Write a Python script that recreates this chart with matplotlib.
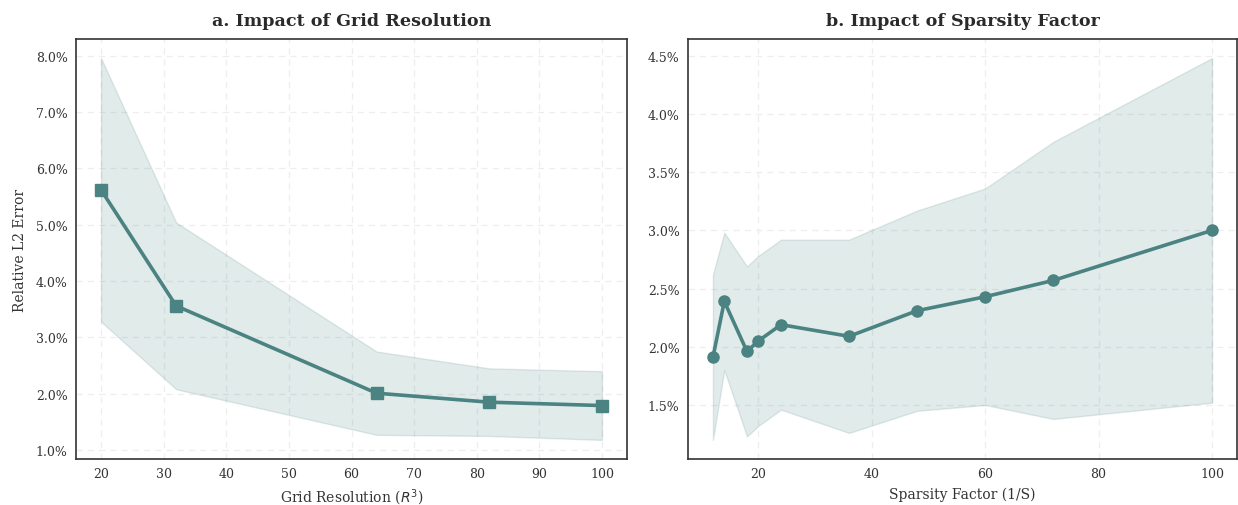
import matplotlib
matplotlib.use("Agg")
import matplotlib.pyplot as plt
import numpy as np
from matplotlib.ticker import PercentFormatter

# Panel a: grid resolution
grid_res = [20, 32, 64, 82, 100]
grid_err_mean = [5.62, 3.56, 2.01, 1.85, 1.79]
grid_err_std = [2.34, 1.48, 0.74, 0.60, 0.61]

# Panel b: sparsity factor
sparsity = [12, 14, 18, 20, 24, 36, 48, 60, 72, 100]
sparse_err_mean = [1.91, 2.39, 1.96, 2.05, 2.19, 2.09, 2.31, 2.43, 2.57, 3.00]
sparse_err_std = [0.71, 0.59, 0.73, 0.73, 0.73, 0.83, 0.86, 0.93, 1.19, 1.48]

color = "#4A8382"
plt.rcParams['font.family'] = ['DejaVu Serif']

fig = plt.figure(figsize=(12.38, 5.06), dpi=100)
W, H = 1238, 506
ax1 = fig.add_axes([76 / W, 46 / H, 551 / W, 420 / H])
ax2 = fig.add_axes([688 / W, 46 / H, 549 / W, 420 / H])


def style(ax):
    ax.set_facecolor("white")
    for s in ax.spines.values():
        s.set_color("#333333")
        s.set_linewidth(1.2)
    ax.grid(True, linestyle=(0, (5, 4)), color="#eeeeee", linewidth=0.9)
    ax.set_axisbelow(True)
    ax.tick_params(labelsize=9, colors="#333333", length=0, pad=6)
    ax.yaxis.set_major_formatter(PercentFormatter(xmax=100, decimals=1))


gm = np.array(grid_err_mean)
gs = np.array(grid_err_std)
ax1.fill_between(grid_res, gm - gs, gm + gs, color=color, alpha=0.16, linewidth=1)
ax1.plot(grid_res, gm, color=color, linewidth=2.6, marker="s", markersize=8)
style(ax1)
ax1.set_title("a. Impact of Grid Resolution", fontsize=12.6, fontweight="bold", pad=10, color="#2a2a2a")
ax1.set_xlabel("Grid Resolution ($R^3$)", fontsize=10, color="#333333", labelpad=4.5)
ax1.set_ylabel("Relative L2 Error", fontsize=10, color="#333333", labelpad=6)

sm = np.array(sparse_err_mean)
ss = np.array(sparse_err_std)
ax2.fill_between(sparsity, sm - ss, sm + ss, color=color, alpha=0.16, linewidth=1)
ax2.plot(sparsity, sm, color=color, linewidth=2.6, marker="o", markersize=8)
style(ax2)
ax2.set_title("b. Impact of Sparsity Factor", fontsize=12.6, fontweight="bold", pad=10, color="#2a2a2a")
ax2.set_xlabel("Sparsity Factor (1/S)", fontsize=10, color="#333333", labelpad=4.5)

fig.savefig("out.png", dpi=100, facecolor="white")
